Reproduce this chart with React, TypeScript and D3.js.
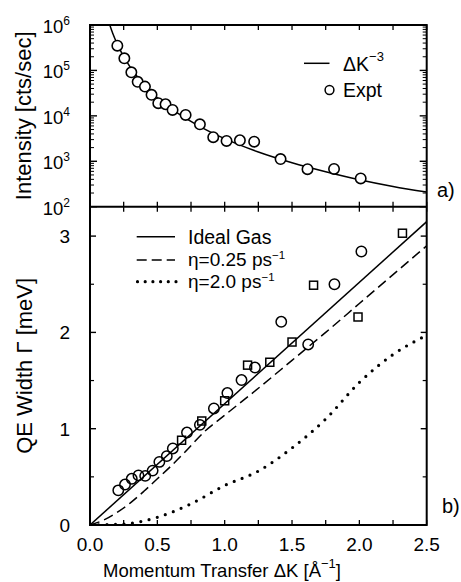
import React from 'react';
import * as d3 from 'd3';

// ---- Panel a) data ----
const exptK = [0.203, 0.255, 0.307, 0.354, 0.408, 0.457, 0.507, 0.561, 0.613, 0.71, 0.816, 0.915, 1.014, 1.113, 1.219, 1.415, 1.615, 1.812, 2.01];
const exptIntensity = [3.5e5, 1.85e5, 9.1e4, 5.6e4, 4.4e4, 2.9e4, 1.9e4, 1.8e4, 1.35e4, 1.05e4, 6.5e3, 3.4e3, 2.8e3, 2.9e3, 2.7e3, 1.12e3, 670, 680, 420];
const fitK = [0.14, 0.17, 0.2, 0.25, 0.3, 0.4, 0.5, 0.6, 0.8, 1.0, 1.25, 1.5, 1.75, 2.0, 2.25, 2.5];
const fitIntensity = [1.15e6, 6.4e5, 3.94e5, 2.02e5, 1.17e5, 4.9e4, 2.5e4, 1.46e4, 6.2e3, 3.15e3, 1.6e3, 930, 590, 394, 280, 210];

// ---- Panel b) data ----
const circleK = [0.21, 0.26, 0.31, 0.36, 0.41, 0.465, 0.515, 0.57, 0.615, 0.72, 0.816, 0.92, 1.02, 1.125, 1.225, 1.42, 1.62, 1.815, 2.015];
const circleWidth = [0.36, 0.42, 0.48, 0.515, 0.51, 0.565, 0.655, 0.715, 0.795, 0.96, 1.04, 1.21, 1.37, 1.505, 1.635, 2.11, 1.875, 2.5, 2.84];
const squareK = [0.68, 0.83, 1.0, 1.17, 1.335, 1.5, 1.66, 1.99, 2.32];
const squareWidth = [0.88, 1.08, 1.29, 1.66, 1.69, 1.9, 2.49, 2.16, 3.03];
const idealK = [0, 2.5];
const idealWidth = [0, 3.15];
const eta025K = [0, 0.1, 0.2, 0.3, 0.4, 0.5, 0.6, 0.7, 0.85, 1.0, 1.25, 1.5, 1.75, 2.0, 2.25, 2.5];
const eta025Width = [0, 0.05, 0.13, 0.23, 0.35, 0.48, 0.61, 0.75, 0.97, 1.14, 1.42, 1.71, 2.0, 2.3, 2.6, 2.9];
const eta20K = [0, 0.25, 0.5, 0.75, 1.0, 1.25, 1.5, 1.75, 2.0, 2.25, 2.5];
const eta20Width = [0, 0.01, 0.08, 0.22, 0.41, 0.56, 0.8, 1.1, 1.48, 1.77, 1.97];

// ---- Ticks ----
const xTickValues = [0, 0.5, 1.0, 1.5, 2.0, 2.5];
const xTickLabels = ['0.0', '0.5', '1.0', '1.5', '2.0', '2.5'];
const xMinorValues = [0, 0.25, 0.5, 0.75, 1.0, 1.25, 1.5, 1.75, 2.0, 2.25, 2.5];
const logExponents = [2, 3, 4, 5, 6];
const widthTickValues = [0, 1, 2, 3];
const widthMinorValues = [0.5, 1.5, 2.5];

const FONT = '"Liberation Sans", Arial, Helvetica, sans-serif';

export default function App() {
  const L = 90, R = 426.7, T = 25, M = 206.7, B = 525;
  const x = d3.scaleLinear().domain([0, 2.5]).range([L, R]);
  const yTop = d3.scaleLog().domain([100, 1e6]).range([M, T]);
  const yBot = d3.scaleLinear().domain([0, (B - M) / 96.3]).range([B, M]);

  const fitLine = d3.line<number>()
    .x((_, i) => x(fitK[i]))
    .y((_, i) => yTop(fitIntensity[i]))
    .curve(d3.curveMonotoneX)(fitK)!;

  const mk = (ks: number[], ws: number[]) =>
    d3.line<number>().x((_, i) => x(ks[i])).y((_, i) => yBot(ws[i])).curve(d3.curveMonotoneX)(ks)!;

  const idealPath = mk(idealK, idealWidth);
  const eta025Path = mk(eta025K, eta025Width);
  const eta20Path = mk(eta20K, eta20Width);

  const minorLog: number[] = [];
  for (let d = 2; d < 6; d++) for (let m = 2; m <= 9; m++) minorLog.push(m * Math.pow(10, d));

  const stroke = '#000';

  return (
    <svg width={461} height={582} style={{ position: 'absolute', left: 0, top: 0, background: '#fff' }} fontFamily={FONT}>
      <defs>
        <clipPath id="clipTop"><rect x={L} y={T} width={R - L} height={M - T} /></clipPath>
        <clipPath id="clipBot"><rect x={L} y={M} width={R - L} height={B - M} /></clipPath>
      </defs>
      <rect x={0} y={0} width={461} height={582} fill="#fff" />

      {/* ===== Panel a ===== */}
      <path d={fitLine} fill="none" stroke={stroke} strokeWidth={1.5} clipPath="url(#clipTop)" />
      {exptK.map((k, i) => (
        <circle key={'e' + i} cx={x(k)} cy={yTop(exptIntensity[i])} r={5.2} fill="#fff" stroke={stroke} strokeWidth={1.6} />
      ))}

      {logExponents.map((e) => {
        const y = yTop(Math.pow(10, e));
        return (
          <g key={'lt' + e}>
            <line x1={L} x2={L + 7} y1={y} y2={y} stroke={stroke} strokeWidth={1.4} />
            <line x1={R} x2={R - 7} y1={y} y2={y} stroke={stroke} strokeWidth={1.4} />
          </g>
        );
      })}
      {minorLog.map((v, i) => {
        const y = yTop(v);
        return (
          <g key={'ml' + i}>
            <line x1={L} x2={L + 4} y1={y} y2={y} stroke={stroke} strokeWidth={1} />
            <line x1={R} x2={R - 4} y1={y} y2={y} stroke={stroke} strokeWidth={1} />
          </g>
        );
      })}
      {xMinorValues.map((v, i) => (
        <g key={'xt' + i}>
          <line x1={x(v)} x2={x(v)} y1={T} y2={T + 5} stroke={stroke} strokeWidth={1.3} />
          <line x1={x(v)} x2={x(v)} y1={M - 5} y2={M + 5} stroke={stroke} strokeWidth={1.3} />
          <line x1={x(v)} x2={x(v)} y1={B} y2={B - 5} stroke={stroke} strokeWidth={1.3} />
        </g>
      ))}

      {logExponents.map((e) => (
        <text key={'ll' + e} x={70} y={yTop(Math.pow(10, e)) + 8} fontSize={18.5} textAnchor="end">
          10<tspan fontSize={12} dy={-8}>{e}</tspan>
        </text>
      ))}

      {/* legend a */}
      <line x1={304} x2={329.5} y1={63.3} y2={63.3} stroke={stroke} strokeWidth={1.5} />
      <text x={343} y={71} fontSize={19.5}>ΔK<tspan fontSize={13} dy={-10}>−3</tspan></text>
      <circle cx={329.5} cy={90} r={4.4} fill="#fff" stroke={stroke} strokeWidth={1.5} />
      <text x={343} y={97} fontSize={19.5}>Expt</text>
      <text x={437} y={197} fontSize={20}>a)</text>

      {/* ===== Panel b ===== */}
      <g clipPath="url(#clipBot)">
        <path d={idealPath} fill="none" stroke={stroke} strokeWidth={1.5} />
        <path d={eta025Path} fill="none" stroke={stroke} strokeWidth={1.5} strokeDasharray="10 5" />
        <path d={eta20Path} fill="none" stroke={stroke} strokeWidth={3.2} strokeDasharray="0 8.5" strokeLinecap="round" />
      </g>
      {circleK.map((k, i) => (
        <circle key={'c' + i} cx={x(k)} cy={yBot(circleWidth[i])} r={5.2} fill="none" stroke={stroke} strokeWidth={1.5} />
      ))}
      {squareK.map((k, i) => (
        <rect key={'s' + i} x={x(k) - 4} y={yBot(squareWidth[i]) - 4} width={8} height={8} fill="none" stroke={stroke} strokeWidth={1.5} />
      ))}

      {widthTickValues.map((v) => (
        <g key={'wt' + v}>
          <line x1={L} x2={L + 6} y1={yBot(v)} y2={yBot(v)} stroke={stroke} strokeWidth={1.4} />
          <line x1={R} x2={R - 6} y1={yBot(v)} y2={yBot(v)} stroke={stroke} strokeWidth={1.4} />
          <text x={70} y={yBot(v) + 7} fontSize={19} textAnchor="end">{v}</text>
        </g>
      ))}
      {widthMinorValues.map((v) => (
        <g key={'wm' + v}>
          <line x1={L} x2={L + 4} y1={yBot(v)} y2={yBot(v)} stroke={stroke} strokeWidth={1.2} />
          <line x1={R} x2={R - 4} y1={yBot(v)} y2={yBot(v)} stroke={stroke} strokeWidth={1.2} />
        </g>
      ))}

      {xTickValues.map((v, i) => (
        <text key={'xl' + i} x={x(v)} y={551} fontSize={19} textAnchor="middle">{xTickLabels[i]}</text>
      ))}

      {/* legend b */}
      <line x1={136.7} x2={175} y1={236.7} y2={236.7} stroke={stroke} strokeWidth={1.5} />
      <text x={188} y={244} fontSize={19.5}>Ideal Gas</text>
      <line x1={136.7} x2={175} y1={260} y2={260} stroke={stroke} strokeWidth={1.5} strokeDasharray="10 5" />
      <text x={188} y={266} fontSize={19}>η=0.25 ps<tspan fontSize={11.5} dy={-7.5}>−1</tspan></text>
      <line x1={137.5} x2={176} y1={281.7} y2={281.7} stroke={stroke} strokeWidth={3.2} strokeDasharray="0 7.7" strokeLinecap="round" />
      <text x={188} y={288} fontSize={19}>η=2.0 ps<tspan fontSize={11.5} dy={-7.5}>−1</tspan></text>
      <text x={442} y={513} fontSize={20}>b)</text>

      {/* frames */}
      <rect x={L} y={T} width={R - L} height={B - T} fill="none" stroke={stroke} strokeWidth={2} />
      <line x1={L} x2={R} y1={M} y2={M} stroke={stroke} strokeWidth={2} />

      {/* axis titles */}
      <text transform={`translate(31,${(T + M) / 2}) rotate(-90)`} fontSize={22} textAnchor="middle">Intensity [cts/sec]</text>
      <text transform={`translate(32,${(M + B) / 2}) rotate(-90)`} fontSize={22} textAnchor="middle">QE Width Γ [meV]</text>
      <text x={103} y={577} fontSize={18.5}>Momentum Transfer ΔK [Å<tspan fontSize={13} dy={-9}>−1</tspan><tspan dy={9}>]</tspan></text>
    </svg>
  );
}
